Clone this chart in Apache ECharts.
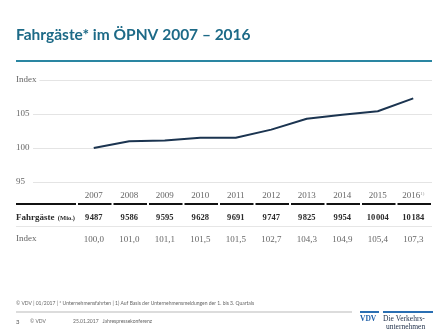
<!DOCTYPE html>
<html>
<head>
<meta charset="utf-8">
<script src="https://cdn.jsdelivr.net/npm/echarts@6/dist/echarts.min.js"></script>
<style>
  html, body { margin: 0; padding: 0; background: #fff; }
  #chart { width: 448px; height: 336px; }
</style>
</head>
<body>
<div id="chart"></div>
<script>
// Jahre, Fahrgäste (Mio.) und Index (2007 = 100)
const years = ['2007', '2008', '2009', '2010', '2011', '2012', '2013', '2014', '2015', '2016'];
const passengers = [9487, 9586, 9595, 9628, 9691, 9747, 9825, 9954, 10004, 10184];
const indexValues = [100.0, 101.0, 101.1, 101.5, 101.5, 102.7, 104.3, 104.9, 105.4, 107.3];
const yMin = 95, yMax = 110, yStep = 5;
const footnoteYear = '2016';

const SERIF = '"Liberation Serif", "DejaVu Serif", serif';
const SANS = 'Lato, "Open Sans", sans-serif';

const fmtThousands = v => {
  const s = String(v);
  return s.length > 3 ? s.slice(0, s.length - 3) + '\u200A' + s.slice(-3) : s;
};
const fmtIndex = v => v.toFixed(1).replace('.', ',');

const chart = echarts.init(document.getElementById('chart'), null, { renderer: 'canvas' });

const gridTop = 80, gridBottom = 154;

chart.setOption({
  animation: false,
  backgroundColor: '#ffffff',
  grid: [
    { left: 33, right: 16, top: gridTop, bottom: gridBottom },
    { left: 76, right: 17, top: gridTop, bottom: gridBottom }
  ],
  xAxis: [
    { gridIndex: 0, type: 'value', show: false, min: 0, max: 1 },
    {
      gridIndex: 1, type: 'category', data: years, boundaryGap: true,
      axisLine: { show: false }, axisTick: { show: false },
      axisLabel: {
        interval: 0, margin: 9, color: '#666', fontFamily: SERIF, fontSize: 9,
        formatter: v => v === footnoteYear ? v + '{sup|1)}' : v,
        rich: { sup: { fontSize: 5, color: '#999', verticalAlign: 'top', padding: [0, 0, 5, 0] } }
      }
    },
    {
      gridIndex: 1, type: 'category', data: years, position: 'bottom', offset: 22,
      axisLine: { show: false }, axisTick: { show: false },
      axisLabel: {
        interval: 0, margin: 9, color: '#2a2a2a', fontFamily: SERIF, fontSize: 8.5, fontWeight: 'bold',
        formatter: (v, i) => fmtThousands(passengers[i])
      }
    },
    {
      gridIndex: 1, type: 'category', data: years, position: 'bottom', offset: 44,
      axisLine: { show: false }, axisTick: { show: false },
      axisLabel: {
        interval: 0, margin: 9, color: '#666', fontFamily: SERIF, fontSize: 9,
        formatter: (v, i) => fmtIndex(indexValues[i])
      }
    }
  ],
  yAxis: [
    {
      gridIndex: 0, type: 'value', min: yMin, max: yMax, interval: yStep,
      axisLine: { show: false }, axisTick: { show: false },
      splitLine: { lineStyle: { color: '#e4e4e4', width: 1 } },
      axisLabel: {
        align: 'left', margin: 17, color: '#666', fontFamily: SERIF, fontSize: 9,
        backgroundColor: '#fff', padding: [0, 3, 4, 0],
        formatter: v => v === yMax ? 'Index' : String(v)
      }
    },
    { gridIndex: 1, type: 'value', min: yMin, max: yMax, interval: yStep, show: false }
  ],
  series: [{
    type: 'line', xAxisIndex: 1, yAxisIndex: 1,
    data: indexValues, symbol: 'none',
    lineStyle: { color: '#1b3450', width: 2 }
  }]
});

// Tabellenlinien je Spalte, Beschriftungen, Kopf und Fußzeile
const centers = years.map(y => chart.convertToPixel({ xAxisIndex: 1 }, y));
const band = centers[1] - centers[0];
const ruleY = 203;
const graphics = [];

graphics.push({ type: 'rect', shape: { x: 16, y: ruleY, width: centers[0] - band / 2 - 16, height: 2 }, style: { fill: '#111' } });
centers.forEach(c => {
  graphics.push({ type: 'rect', shape: { x: c - band / 2 + 2, y: ruleY, width: band - 2, height: 2 }, style: { fill: '#111' } });
});
graphics.push({ type: 'rect', shape: { x: 16, y: 226, width: 416, height: 1 }, style: { fill: '#e6e6e6' } });

graphics.push({
  type: 'text', left: 16, top: 212,
  style: {
    text: '{b|Fahrgäste} {s|(Mio.)}',
    rich: {
      b: { fontFamily: SERIF, fontSize: 9, fontWeight: 'bold', fill: '#2a2a2a' },
      s: { fontFamily: SERIF, fontSize: 6.5, fontWeight: 'bold', fill: '#2a2a2a' }
    }
  }
});
graphics.push({
  type: 'text', left: 16, top: 234,
  style: { text: 'Index', fontFamily: SERIF, fontSize: 9, fill: '#666' }
});

// Titel
graphics.push({
  type: 'text', left: 16, top: 27,
  style: { text: 'Fahrgäste* im ÖPNV 2007 – 2016', fontFamily: SANS, fontSize: 15.5, fontWeight: 'bold', fill: '#1d6a87' }
});
graphics.push({ type: 'rect', shape: { x: 16, y: 60, width: 416, height: 2 }, style: { fill: '#2a86a2' } });

// Fußzeile
graphics.push({
  type: 'text', left: 16, top: 301,
  style: { text: '© VDV | 01/2017 | * Unternehmensfahrten | 1) Auf Basis der Unternehmensmeldungen der 1. bis 3. Quartals', fontFamily: SANS, fontSize: 5, fill: '#666' }
});
graphics.push({ type: 'rect', shape: { x: 16, y: 311, width: 336, height: 2 }, style: { fill: '#dcdcdc' } });
graphics.push({ type: 'text', left: 16, top: 319, style: { text: '3', fontFamily: SANS, fontSize: 6, fill: '#555' } });
graphics.push({ type: 'text', left: 30, top: 319, style: { text: '© VDV', fontFamily: SANS, fontSize: 5, fill: '#666' } });
graphics.push({ type: 'text', left: 73, top: 319, style: { text: '25.01.2017   Jahrespressekonferenz', fontFamily: SANS, fontSize: 5, fill: '#666' } });

// Logo
graphics.push({ type: 'rect', shape: { x: 360, y: 311, width: 19, height: 2 }, style: { fill: '#2a6fb3' } });
graphics.push({ type: 'rect', shape: { x: 383, y: 311, width: 50, height: 2 }, style: { fill: '#2a6fb3' } });
graphics.push({ type: 'text', left: 360, top: 315, style: { text: 'VDV', fontFamily: SERIF, fontSize: 7.5, fontWeight: 'bold', fill: '#1f5fa8' } });
graphics.push({ type: 'text', left: 383, top: 315, style: { text: 'Die Verkehrs-', fontFamily: SERIF, fontSize: 7.5, fill: '#1e2e48' } });
graphics.push({ type: 'text', left: 386, top: 323, style: { text: 'unternehmen', fontFamily: SERIF, fontSize: 7.5, fill: '#1e2e48' } });

chart.setOption({ graphic: graphics });
</script>
</body>
</html>
